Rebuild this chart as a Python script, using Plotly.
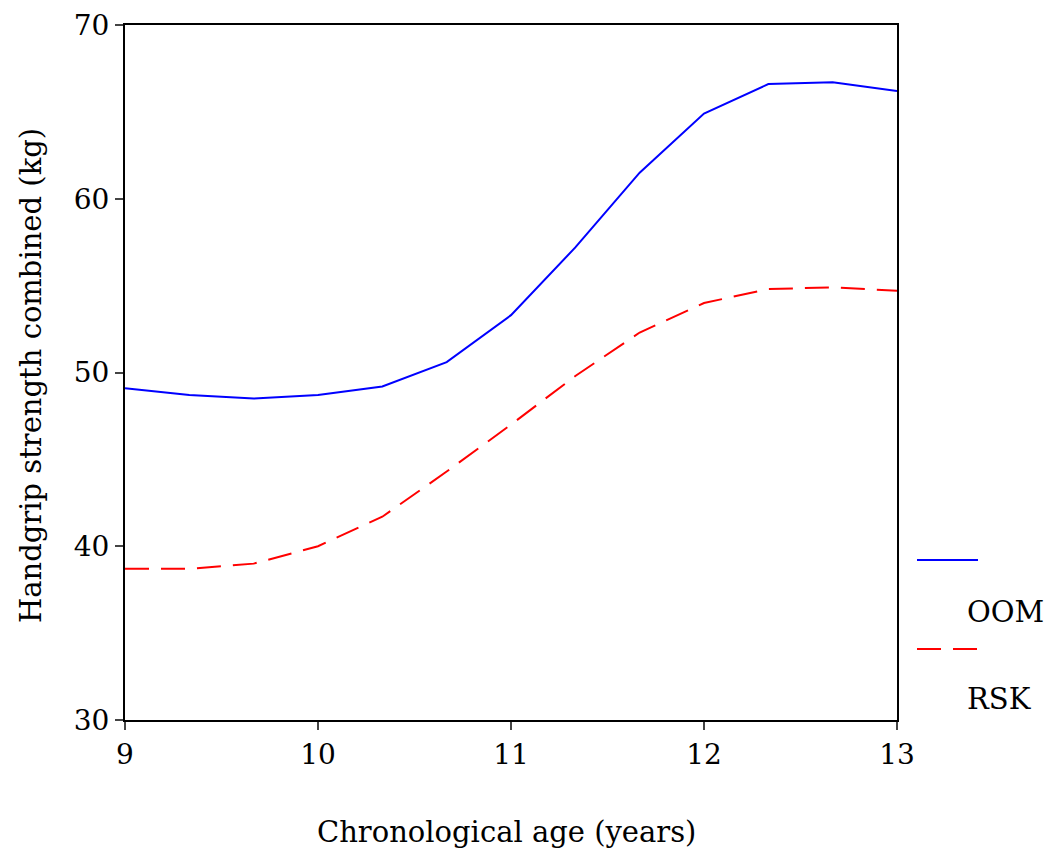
import plotly.graph_objects as go

age = [9, 9+1/3, 9+2/3, 10, 10+1/3, 10+2/3, 11, 11+1/3, 11+2/3, 12, 12+1/3, 12+2/3, 13]
oom = [49.1, 48.7, 48.5, 48.7, 49.2, 50.6, 53.3, 57.2, 61.5, 64.9, 66.6, 66.7, 66.2]
rsk = [38.7, 38.7, 39.0, 40.0, 41.7, 44.3, 47.0, 49.8, 52.3, 54.0, 54.8, 54.9, 54.7]
series_names = ["OOM", "RSK"]
x_ticks = [9, 10, 11, 12, 13]
y_ticks = [30, 40, 50, 60, 70]
x_title = "Chronological age (years)"
y_title = "Handgrip strength combined (kg)"

FONT = "DejaVu Serif"
FS = 29
TFS = 28
OFF = 8  # page body margin
W, H = 1059 - OFF, 854 - OFF
L, R, T, B = 125 - OFF, 162, 25 - OFF, 134

fig = go.Figure()
fig.add_trace(go.Scatter(x=age, y=oom, mode="lines", name=series_names[0],
                         line=dict(color="#0000ff", width=2)))
fig.add_trace(go.Scatter(x=age, y=rsk, mode="lines", name=series_names[1],
                         line=dict(color="#ff0000", width=2, dash="24px,12px")))

pw = W - L - R
ph = H - T - B
def px(xp):
    return (xp - OFF - L) / pw
def py(yp):
    return 1 - (yp - OFF - T) / ph

# manual legend
fig.add_shape(type="line", xref="paper", yref="paper", x0=px(917), x1=px(978),
              y0=py(560), y1=py(560), line=dict(color="#0000ff", width=2))
fig.add_shape(type="line", xref="paper", yref="paper", x0=px(917), x1=px(978),
              y0=py(649), y1=py(649), line=dict(color="#ff0000", width=2, dash="24px,12px"))
fig.add_annotation(xref="paper", yref="paper", x=px(965), y=py(612), text=series_names[0],
                   showarrow=False, xanchor="left", yanchor="middle",
                   font=dict(family=FONT, size=FS, color="black"))
fig.add_annotation(xref="paper", yref="paper", x=px(965), y=py(699), text=series_names[1],
                   showarrow=False, xanchor="left", yanchor="middle",
                   font=dict(family=FONT, size=FS, color="black"))
# axis titles
fig.add_annotation(xref="paper", yref="paper", x=px(506), y=py(832), text=x_title,
                   showarrow=False, xanchor="center", yanchor="middle",
                   font=dict(family=FONT, size=FS, color="black"))
fig.add_annotation(xref="paper", yref="paper", x=px(31), y=py(376), text=y_title,
                   showarrow=False, xanchor="center", yanchor="middle", textangle=-90,
                   font=dict(family=FONT, size=FS, color="black"))

fig.update_layout(
    width=W, height=H,
    margin=dict(l=L, r=R, t=T, b=B),
    plot_bgcolor="white", paper_bgcolor="white",
    showlegend=False,
    font=dict(family=FONT, size=FS, color="black"),
)
fig.update_xaxes(range=[9, 13], tickvals=x_ticks, ticks="outside", ticklen=8, tickwidth=2,
                 showline=True, linewidth=2, linecolor="black", mirror=True, showgrid=False,
                 zeroline=False, tickfont=dict(size=TFS), automargin=False,
                 ticklabeloverflow="allow")
fig.update_yaxes(range=[30, 70], tickvals=y_ticks, ticks="outside", ticklen=8, tickwidth=2,
                 showline=True, linewidth=2, linecolor="black", mirror=True, showgrid=False,
                 zeroline=False, tickfont=dict(size=TFS), automargin=False,
                 ticklabeloverflow="allow")

fig.write_html("out.html")
